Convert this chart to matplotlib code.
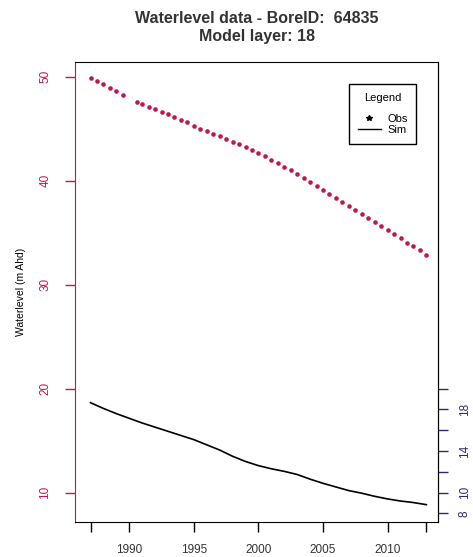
import matplotlib
matplotlib.use('Agg')
import matplotlib.pyplot as plt
from matplotlib.lines import Line2D

plt.rcParams['font.family'] = ['Liberation Sans', 'DejaVu Sans']

obsYears = [1987.0, 1987.5, 1988.0, 1988.5, 1989.0, 1989.5,
            1990.6, 1991.0, 1991.5, 1992.0, 1992.5, 1993.0, 1993.5,
            1994.0, 1994.5, 1995.0, 1995.5, 1996.0, 1996.5, 1997.0,
            1997.5, 1998.0, 1998.5, 1999.0, 1999.5, 2000.0, 2000.5,
            2001.0, 2001.5, 2002.0, 2002.5, 2003.0, 2003.5, 2004.0,
            2004.5, 2005.0, 2005.5, 2006.0, 2006.5, 2007.0, 2007.5,
            2008.0, 2008.5, 2009.0, 2009.5, 2010.0, 2010.5, 2011.0,
            2011.5, 2012.0, 2012.5, 2013.0]
obsVals = [49.9, 49.6, 49.3, 48.9, 48.6, 48.2,
           47.6, 47.4, 47.1, 46.9, 46.6, 46.4, 46.1,
           45.8, 45.6, 45.3, 45.0, 44.8, 44.5, 44.3,
           44.0, 43.7, 43.5, 43.2, 42.95, 42.7, 42.4,
           42.0, 41.7, 41.35, 41.0, 40.6, 40.3, 39.9,
           39.5, 39.1, 38.7, 38.35, 37.95, 37.6, 37.2,
           36.8, 36.4, 36.05, 35.65, 35.25, 34.85, 34.45,
           34.05, 33.7, 33.3, 32.9]

# Simulated water levels, yearly
simYears = list(range(1987, 2014))
simVals = [18.65, 18.1, 17.6, 17.15, 16.7, 16.3, 15.9, 15.5, 15.1, 14.6,
           14.1, 13.5, 13.0, 12.6, 12.3, 12.05, 11.75, 11.3, 10.9, 10.55,
           10.2, 9.95, 9.65, 9.4, 9.2, 9.05, 8.85]

xTicks = [1987, 1990, 1995, 2000, 2005, 2010, 2013]
xLabels = ['', '1990', '1995', '2000', '2005', '2010', '']
leftTicks = [10, 20, 30, 40, 50]
rightTicks = [8, 10, 12, 14, 16, 18, 20]
rightLabels = ['8', '10', '', '14', '', '18', '']

red = '#c0174a'
navy = '#2a2a78'

fig = plt.figure(figsize=(4.73, 5.57), dpi=100)
ax = fig.add_axes([0.1586, 0.0628, 0.7674, 0.8259])

ax.plot(obsYears, obsVals, linestyle='none', marker='o', color=red,
        markersize=3.3, markeredgewidth=0)
ax.plot(simYears, simVals, color='black', linewidth=1.2)

ax.set_xlim(1985.8, 2013.9)
ax.set_ylim(7.18, 51.41)

ax.set_xticks(xTicks)
ax.set_xticklabels(xLabels)
ax.tick_params(axis='x', direction='out', length=7, width=1, pad=9,
               labelsize=8.5, colors='black', labelcolor='#333333')

ax.set_yticks(leftTicks)
ax.set_yticklabels([str(t) for t in leftTicks], rotation=90, va='center')
ax.tick_params(axis='y', direction='out', length=7, width=1, pad=10,
               labelsize=8.5, colors=red)
ax.spines['left'].set_color(red)
ax.set_ylabel('Waterlevel (m Ahd)', fontsize=7.5, labelpad=10)

# right hand axis for the simulated series (same scale)
ax2 = ax.twinx()
ax2.set_ylim(ax.get_ylim())
ax2.set_yticks(rightTicks)
ax2.set_yticklabels(rightLabels, rotation=90, va='center')
ax2.tick_params(axis='y', direction='out', length=7, width=1, pad=8,
                labelsize=8.5, colors=navy)
for s in ['left', 'top', 'bottom']:
    ax2.spines[s].set_visible(False)

ax.set_title('Waterlevel data - BoreID:  64835\nModel layer: 18',
             fontsize=11.5, fontweight='bold', color='#333333', pad=15,
             linespacing=1.3)

handles = [Line2D([], [], linestyle='none', marker='*', color='black',
                  markersize=4),
           Line2D([], [], color='black', linewidth=1)]
leg = ax.legend(handles, ['Obs', 'Sim'], title='Legend', loc='upper right',
                bbox_to_anchor=(0.956, 0.965), fontsize=8,
                title_fontsize=8, fancybox=False, edgecolor='black',
                handlelength=2.0, handletextpad=0.6, borderpad=0.8,
                labelspacing=0.1)
leg._legend_box.sep = 8
leg.get_frame().set_linewidth(1)
leg.get_frame().set_alpha(1)

fig.savefig('out.png', dpi=100)
